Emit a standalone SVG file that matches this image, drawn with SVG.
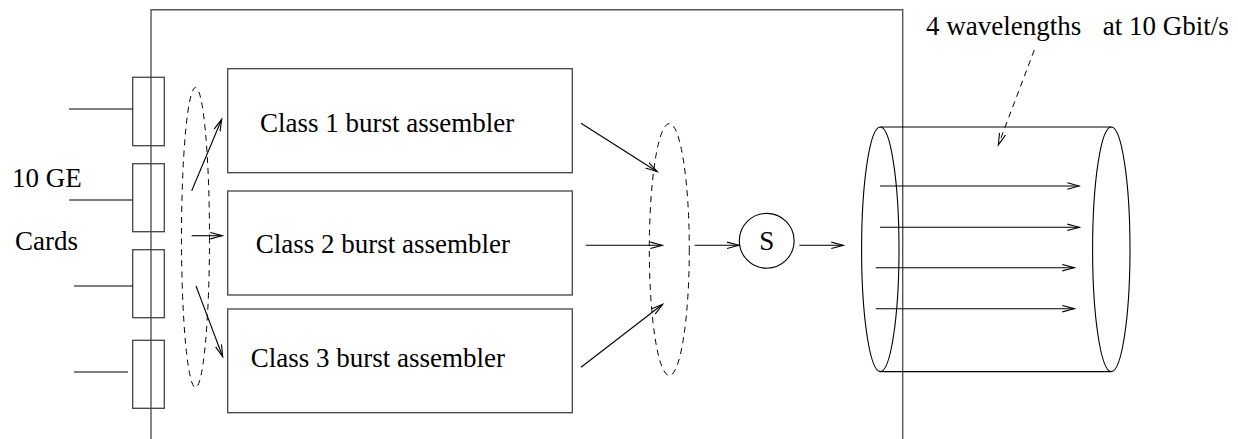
<svg xmlns="http://www.w3.org/2000/svg" width="1238" height="439" viewBox="0 0 1238 439">
  <style>
    .frame { fill: none; stroke: #555; stroke-width: 1.4; }
    .box { fill: none; stroke: #444; stroke-width: 1.3; }
    .line { fill: none; stroke: #000; stroke-width: 1.1; }
    .arrow { fill: none; stroke: #000; stroke-width: 1.1; marker-end: url(#head); }
    .dash { fill: none; stroke: #000; stroke-width: 1; stroke-dasharray: 6 5; }
    .label { font-family: "Liberation Serif", "Times New Roman", serif; font-size: 27px; fill: #000; }
  </style>
  <defs>
    <marker id="head" markerUnits="userSpaceOnUse" markerWidth="14" markerHeight="10" refX="12" refY="4" orient="auto">
      <path d="M0,0.8 L12,4 L0,7.2" fill="none" stroke="#000" stroke-width="1.1"/>
    </marker>
  </defs>

  <!-- edge router frame -->
  <g id="frame">
    <path class="frame" d="M151,439 V9.7 H902.7 V439"/>
  </g>

  <!-- 10 GE line cards -->
  <g id="cards">
    <rect class="box" x="132.7" y="77.3" width="31.6" height="68.4"/>
    <rect class="box" x="132.7" y="163.7" width="31.6" height="68"/>
    <rect class="box" x="132.7" y="249.7" width="31.6" height="68"/>
    <rect class="box" x="132.7" y="340.3" width="31.6" height="68"/>
    <line class="line" x1="69" y1="109" x2="132.7" y2="109"/>
    <line class="line" x1="69" y1="200" x2="132.7" y2="200"/>
    <line class="line" x1="74" y1="286" x2="132.7" y2="286"/>
    <line class="line" x1="74" y1="372" x2="128" y2="372"/>
    <text class="label" x="12" y="187">10 GE</text>
    <text class="label" x="15" y="250">Cards</text>
  </g>

  <!-- burst assemblers -->
  <g id="class1">
    <rect class="box" x="227.7" y="68.7" width="344.6" height="104"/>
    <text class="label" x="260" y="132.3">Class 1 burst assembler</text>
  </g>
  <g id="class2">
    <rect class="box" x="227.7" y="191" width="344.6" height="104"/>
    <text class="label" x="255.7" y="253.3">Class 2 burst assembler</text>
  </g>
  <g id="class3">
    <rect class="box" x="227.7" y="309" width="344.6" height="103.7"/>
    <text class="label" x="250.7" y="367.3">Class 3 burst assembler</text>
  </g>

  <!-- dashed grouping ellipses -->
  <g id="classifier">
    <ellipse class="dash" cx="195.5" cy="237.5" rx="14" ry="150"/>
  </g>
  <g id="merger">
    <ellipse class="dash" cx="669.3" cy="249.5" rx="20" ry="126"/>
  </g>

  <!-- scheduler -->
  <g id="scheduler">
    <circle class="line" cx="766.7" cy="240.8" r="27.4"/>
    <text class="label" x="766.7" y="249.5" text-anchor="middle">S</text>
  </g>

  <!-- output fibre with four wavelengths -->
  <g id="fibre">
    <ellipse class="line" cx="880.3" cy="249.3" rx="18.7" ry="122.3"/>
    <ellipse class="line" cx="1111.3" cy="249.3" rx="18.7" ry="122.3"/>
    <line class="line" x1="880.3" y1="127" x2="1111.3" y2="127"/>
    <line class="line" x1="880.3" y1="371.6" x2="1111.3" y2="371.6"/>
    <line class="arrow" x1="880" y1="186" x2="1079.3" y2="186"/>
    <line class="arrow" x1="880" y1="227.3" x2="1079.3" y2="227.3"/>
    <line class="arrow" x1="875.7" y1="267.7" x2="1074.3" y2="267.7"/>
    <line class="arrow" x1="875.7" y1="308.7" x2="1074.3" y2="308.7"/>
    <text class="label" x="926" y="35">4 wavelengths<tspan x="1102.7">at 10 Gbit/s</tspan></text>
  </g>

  <!-- connectors -->
  <g id="connectors">
    <line class="arrow" x1="191.7" y1="190.7" x2="221.7" y2="119.3"/>
    <line class="arrow" x1="191.7" y1="235.7" x2="222.3" y2="235.7"/>
    <line class="arrow" x1="196" y1="286" x2="222.7" y2="356.7"/>
    <line class="arrow" x1="581" y1="123.3" x2="657.3" y2="171.7"/>
    <line class="arrow" x1="585.7" y1="245.3" x2="662.3" y2="245.3"/>
    <line class="arrow" x1="581" y1="367.3" x2="662.7" y2="304.3"/>
    <line class="arrow" x1="694.7" y1="245.3" x2="739" y2="245.3"/>
    <line class="arrow" x1="799.3" y1="245.3" x2="843.3" y2="245.3"/>
    <line class="dash" x1="1034.3" y1="50" x2="998.3" y2="145" marker-end="url(#head)" stroke-dasharray="6 5"/>
  </g>
</svg>
